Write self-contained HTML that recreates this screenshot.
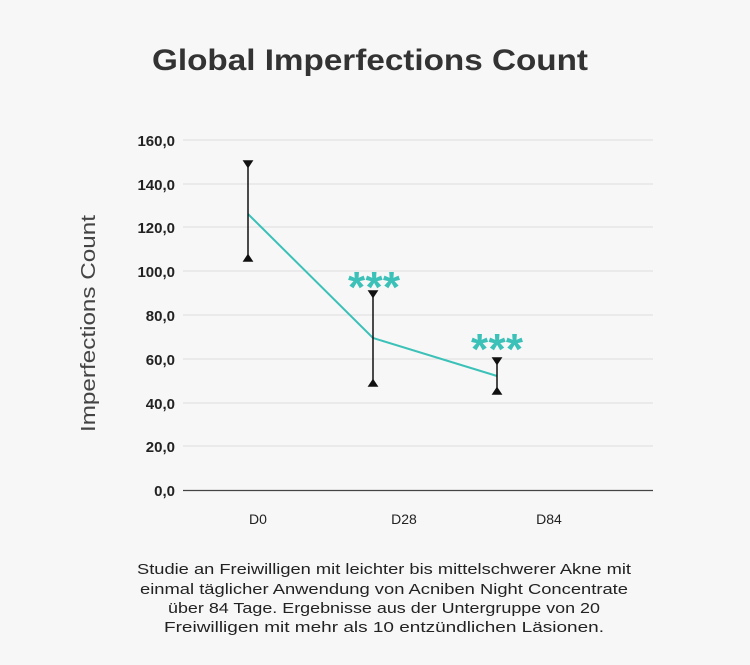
<!DOCTYPE html>
<html><head><style>
body{margin:0;width:750px;height:660px;background:#f7f7f7;overflow:hidden}
</style></head><body>
<svg width="750" height="660" xmlns="http://www.w3.org/2000/svg" font-family="Liberation Sans, sans-serif">
<rect width="750" height="660" fill="#f7f7f7"/>
<text x="152" y="70" textLength="436" lengthAdjust="spacingAndGlyphs" font-size="30" font-weight="bold" fill="#333">Global Imperfections Count</text>
<g stroke="#dcdcdc" stroke-width="1">
<line x1="183" x2="653" y1="140" y2="140"/><line x1="183" x2="653" y1="184" y2="184"/>
<line x1="183" x2="653" y1="227" y2="227"/><line x1="183" x2="653" y1="271" y2="271"/>
<line x1="183" x2="653" y1="315" y2="315"/><line x1="183" x2="653" y1="359" y2="359"/>
<line x1="183" x2="653" y1="403" y2="403"/><line x1="183" x2="653" y1="446" y2="446"/>
</g>
<line x1="183" x2="653" y1="490.5" y2="490.5" stroke="#444" stroke-width="1.3"/>
<g font-size="15" fill="#222" text-anchor="end" font-weight="bold">
<text x="175" y="146">160,0</text><text x="175" y="190">140,0</text><text x="175" y="233">120,0</text>
<text x="175" y="277">100,0</text><text x="175" y="321">80,0</text><text x="175" y="365">60,0</text>
<text x="175" y="409">40,0</text><text x="175" y="452">20,0</text><text x="175" y="496">0,0</text>
</g>
<text transform="translate(95,432) rotate(-90)" textLength="217" lengthAdjust="spacingAndGlyphs" font-size="20" fill="#444">Imperfections Count</text>
<g font-size="14" fill="#222" text-anchor="middle">
<text x="258" y="524">D0</text><text x="404" y="524">D28</text><text x="549" y="524">D84</text>
</g>
<polyline points="248,214 373,338 497,376" fill="none" stroke="#3cc1b8" stroke-width="2"/>
<g stroke="#111" stroke-width="1.5" fill="#111">
<line x1="248" x2="248" y1="162" y2="259"/>
<path d="M244,161h8l-4,6z"/><path d="M244,261h8l-4,-6z"/>
<line x1="373" x2="373" y1="292" y2="385"/>
<path d="M369,291h8l-4,6z"/><path d="M369,386h8l-4,-6z"/>
<line x1="497" x2="497" y1="359" y2="393"/>
<path d="M493,358h8l-4,6z"/><path d="M493,394h8l-4,-6z"/>
</g>
<g font-size="44" fill="#3cc1b8" font-weight="bold">
<text x="348" y="302" textLength="52" lengthAdjust="spacing">***</text>
<text x="471" y="364" textLength="52" lengthAdjust="spacing">***</text>
</g>
<g font-size="15" fill="#222" text-anchor="middle">
<text x="384" y="574" textLength="494" lengthAdjust="spacingAndGlyphs">Studie an Freiwilligen mit leichter bis mittelschwerer Akne mit</text>
<text x="384" y="594" textLength="488" lengthAdjust="spacingAndGlyphs">einmal täglicher Anwendung von Acniben Night Concentrate</text>
<text x="384" y="613" textLength="432" lengthAdjust="spacingAndGlyphs">über 84 Tage. Ergebnisse aus der Untergruppe von 20</text>
<text x="384" y="632" textLength="440" lengthAdjust="spacingAndGlyphs">Freiwilligen mit mehr als 10 entzündlichen Läsionen.</text>
</g>
</svg>
</body></html>
